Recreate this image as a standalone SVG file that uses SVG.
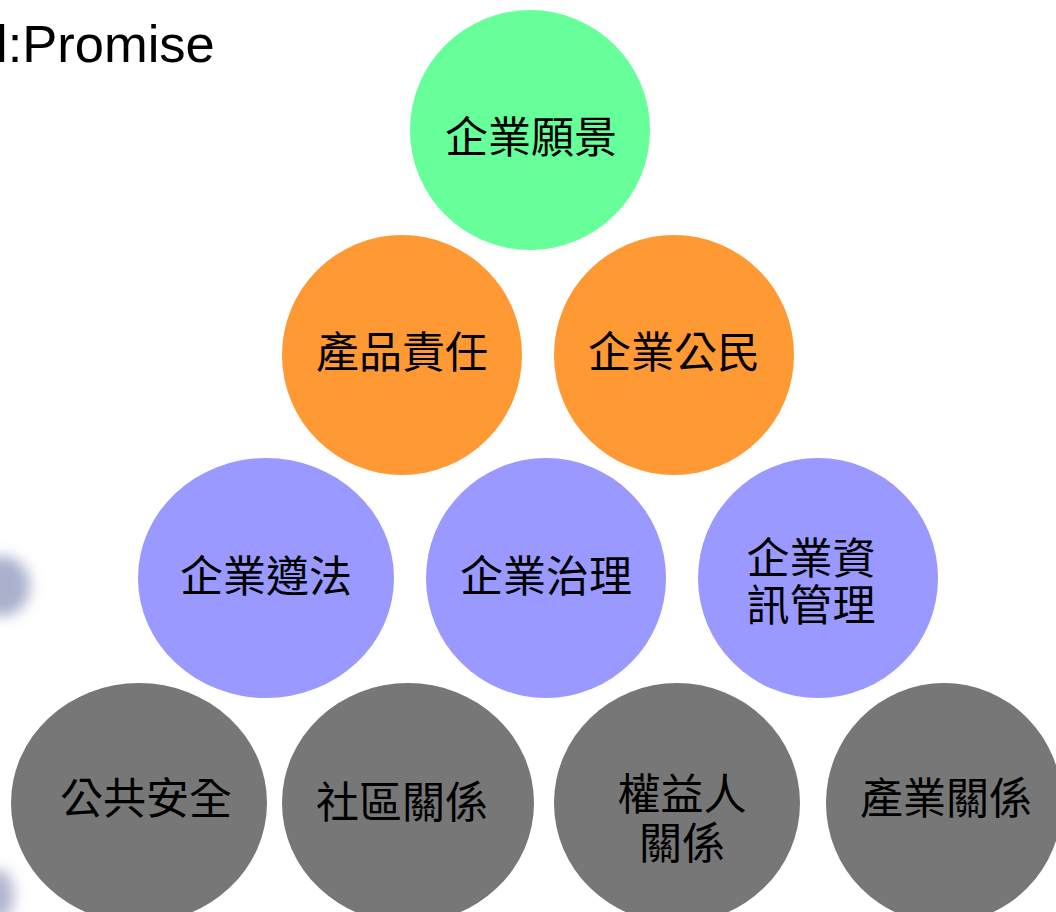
<svg xmlns="http://www.w3.org/2000/svg" width="1056" height="912" viewBox="0 0 1056 912">
<defs>
<style>
.lbl{font-family:"Noto Sans CJK TC","Noto Sans CJK SC",sans-serif;font-size:43px;fill:#000;text-anchor:middle;}
.g{fill:#66FF99}.o{fill:#FF9933}.b{fill:#9999FF}.k{fill:#777777}
</style>
<filter id="blur" x="-1" y="-1" width="3" height="3"><feGaussianBlur stdDeviation="7"/></filter>
</defs>
<rect width="1056" height="912" fill="#fff"/>
<g id="bg-deco" filter="url(#blur)">
<ellipse cx="2" cy="586" rx="28" ry="30" fill="#a9b0cc"/>
<ellipse cx="-2" cy="895" rx="16" ry="26" fill="#b0b6cf"/>
</g>
<text x="-4" y="62" font-family="Liberation Sans, Arial, sans-serif" font-size="52.5" fill="#000">l:Promise</text>
<g id="connectors"/>
<g id="n-vision"><circle class="g" cx="530" cy="130" r="120"/><text class="lbl" x="531" y="153">企業願景</text></g>
<g id="n-product"><circle class="o" cx="402" cy="355" r="120"/><text class="lbl" x="402" y="368">產品責任</text></g>
<g id="n-citizen"><circle class="o" cx="674" cy="355" r="120"/><text class="lbl" x="674" y="368">企業公民</text></g>
<g id="n-compliance"><ellipse class="b" cx="266" cy="578" rx="128" ry="120"/><text class="lbl" x="266" y="592">企業遵法</text></g>
<g id="n-governance"><circle class="b" cx="546" cy="578" r="120"/><text class="lbl" x="546" y="592">企業治理</text></g>
<g id="n-infomgmt"><circle class="b" cx="818" cy="578" r="120"/><text class="lbl" x="811" y="574">企業資</text><text class="lbl" x="811" y="621">訊管理</text></g>
<g id="n-safety"><ellipse class="k" cx="139" cy="803" rx="128" ry="120"/><text class="lbl" x="146" y="814">公共安全</text></g>
<g id="n-community"><ellipse class="k" cx="408" cy="803" rx="126" ry="120"/><text class="lbl" x="402" y="818">社區關係</text></g>
<g id="n-stakeholder"><ellipse class="k" cx="677" cy="803" rx="123" ry="120"/><text class="lbl" x="682" y="810">權益人</text><text class="lbl" x="682" y="859">關係</text></g>
<g id="n-industry"><ellipse class="k" cx="944" cy="803" rx="118" ry="120"/><text class="lbl" x="946" y="814">產業關係</text></g>
</svg>
